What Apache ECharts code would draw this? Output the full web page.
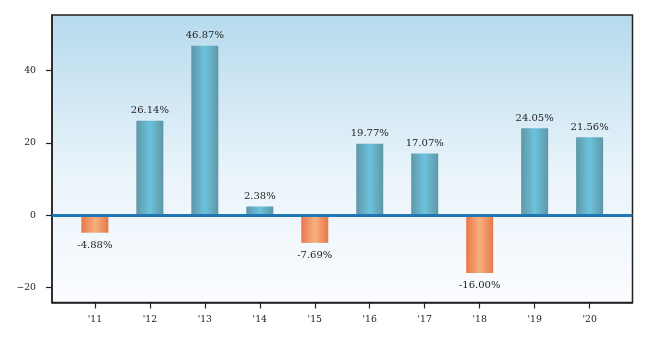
<!DOCTYPE html>
<html><head><meta charset="utf-8">
<script src="https://cdn.jsdelivr.net/npm/echarts@6/dist/echarts.min.js"></script>
<style>html,body{margin:0;padding:0;background:#fff}#c{width:647px;height:342px}</style>
</head><body><div id="c"></div>
<script>
const categories = ["'11","'12","'13","'14","'15","'16","'17","'18","'19","'20"];
const returns = [-4.88, 26.14, 46.87, 2.38, -7.69, 19.77, 17.07, -16.00, 24.05, 21.56];
const yTicks = [-20, 0, 20, 40];

const posGrad = {type:'linear',x:0,y:0,x2:1,y2:0,colorStops:[
  {offset:0,color:'#5f97a6'},{offset:0.5,color:'#6cc2de'},{offset:1,color:'#5f97a6'}]};
const negGrad = {type:'linear',x:0,y:0,x2:1,y2:0,colorStops:[
  {offset:0,color:'#e8784b'},{offset:0.5,color:'#f6b07e'},{offset:1,color:'#e8784b'}]};
const font = 'DejaVu Serif';

const chart = echarts.init(document.getElementById('c'), null, {renderer:'canvas'});
chart.setOption({
  animation:false,
  grid:{left:52,top:15,right:14.5,bottom:39.5,show:true,borderColor:'#222',borderWidth:1.5,
    backgroundColor:{type:'linear',x:0,y:0,x2:0,y2:1,colorStops:[
      {offset:0,color:'#b6daee'},{offset:0.55,color:'#e9f4fa'},{offset:1,color:'#fbfcff'}]}},
  xAxis:{type:'value',min:-0.78,max:9.78,
    axisLine:{show:true,onZero:false,lineStyle:{color:'#222',width:1.5}},
    splitLine:{show:false},
    axisTick:{show:true,length:6,lineStyle:{color:'#222',width:1.2},customValues:categories.map((c,i)=>i)},
    axisLabel:{customValues:categories.map((c,i)=>i),formatter:v=>categories[Math.round(v)],
      color:'#222',fontFamily:font,fontSize:9.3,margin:13}},
  yAxis:{type:'value',min:-24.2,max:55.4,
    axisLine:{show:true,onZero:false,lineStyle:{color:'#222',width:1.5}},
    splitLine:{show:false},
    axisTick:{show:true,length:6,lineStyle:{color:'#222',width:1.2},customValues:yTicks},
    axisLabel:{customValues:yTicks,formatter:v=>(v<0?'\u2212'+Math.abs(v):String(v)),
      color:'#222',fontFamily:font,fontSize:9.3,margin:16}},
  series:[{type:'bar',barWidth:27,
    data:returns.map((v,i)=>({value:[i,v],
      itemStyle:{color:v>=0?posGrad:negGrad},
      label:{show:true,position:v>=0?'top':'bottom',distance:v>=0?5:8,
        formatter:v.toFixed(2)+'%',color:'#222',fontFamily:font,fontSize:10}})),
    markLine:{silent:true,symbol:'none',label:{show:false},
      lineStyle:{color:'#1f77b4',width:3,type:'solid'},data:[{yAxis:0}]}
  }]
});
</script></body></html>
